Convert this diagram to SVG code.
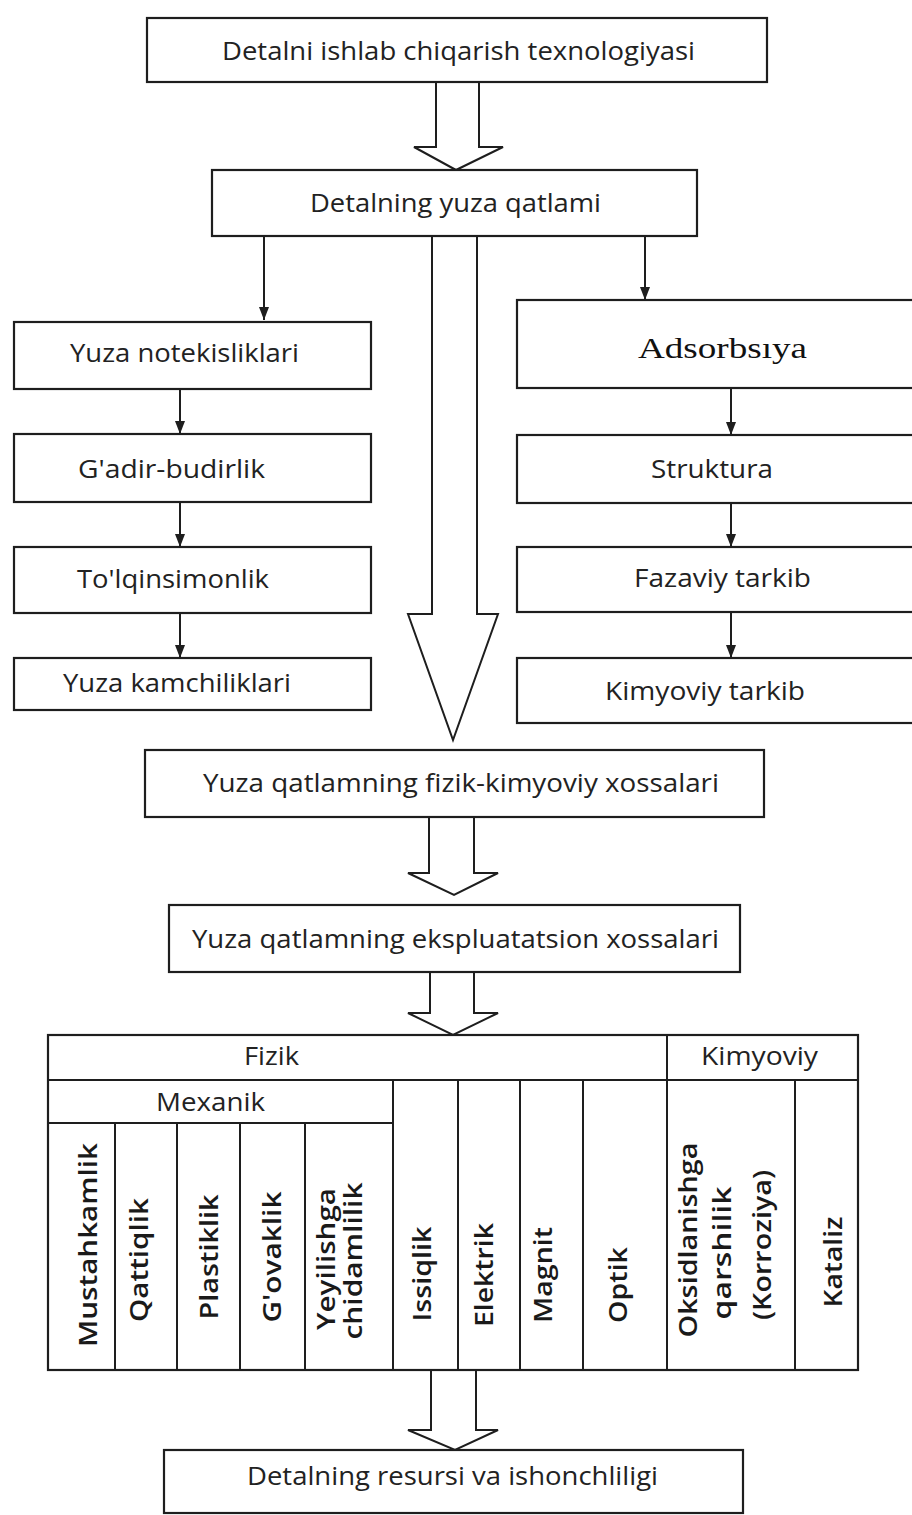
<svg xmlns="http://www.w3.org/2000/svg" width="912" height="1515" viewBox="0 0 912 1515">
<defs>
<style>
.box{fill:#fff;stroke:#1e1e1e;stroke-width:2.2}
.ln{fill:none;stroke:#1e1e1e;stroke-width:2}
.hol{fill:#fff;stroke:#1e1e1e;stroke-width:2;stroke-linejoin:miter}
.t{font-family:"Open Sans","Noto Sans",sans-serif;font-size:26px;fill:#222}
.v{font-family:"Open Sans","Noto Sans",sans-serif;font-size:26px;font-weight:600;fill:#1a1a1a;text-anchor:middle}
.serif{font-family:"Liberation Serif","DejaVu Serif",serif;font-size:29px;fill:#111}
</style>
<marker id="ad" markerUnits="userSpaceOnUse" markerWidth="13" markerHeight="10" refX="13" refY="5" orient="auto" viewBox="0 0 13 10">
<path d="M0,0 L13,5 L0,10 Z" fill="#1e1e1e"/>
</marker>
</defs>
<rect width="912" height="1515" fill="#fff"/>

<g id="connectors">
<polygon class="hol" points="436,82 436,147 414,147 456,170 503,147 479,147 479,82"/>
<polygon class="hol" points="432,236 432,614 408,614 453,740 498,614 477,614 477,236"/>
<polygon class="hol" points="429,817 429,873 408,873 454,895 498,873 474,873 474,817"/>
<polygon class="hol" points="430,972 430,1013 408,1013 453,1035 498,1013 474,1013 474,972"/>
<polygon class="hol" points="431,1370 431,1430 408,1430 455,1450 498,1430 476,1430 476,1370"/>
<path class="ln" d="M264,236 L264,320" marker-end="url(#ad)"/>
<path class="ln" d="M645,236 L645,300" marker-end="url(#ad)"/>
<path class="ln" d="M180,389 L180,434" marker-end="url(#ad)"/>
<path class="ln" d="M180,502 L180,547" marker-end="url(#ad)"/>
<path class="ln" d="M180,613 L180,658" marker-end="url(#ad)"/>
<path class="ln" d="M731,388 L731,435" marker-end="url(#ad)"/>
<path class="ln" d="M731,503 L731,547" marker-end="url(#ad)"/>
<path class="ln" d="M731,612 L731,658" marker-end="url(#ad)"/>
</g>

<g id="n_tech">
<rect class="box" x="147" y="18" width="620" height="64"/>
<text class="t" x="222" y="60" textLength="473" lengthAdjust="spacingAndGlyphs">Detalni ishlab chiqarish texnologiyasi</text>
</g>
<g id="n_layer">
<rect class="box" x="212" y="170" width="485" height="66"/>
<text class="t" x="310" y="212" textLength="291" lengthAdjust="spacingAndGlyphs">Detalning yuza qatlami</text>
</g>

<g id="n_notek">
<rect class="box" x="14" y="322" width="357" height="67"/>
<text class="t" x="70" y="362" textLength="229" lengthAdjust="spacingAndGlyphs">Yuza notekisliklari</text>
</g>
<g id="n_gadir">
<rect class="box" x="14" y="434" width="357" height="68"/>
<text class="t" x="78" y="478" textLength="187" lengthAdjust="spacingAndGlyphs">G'adir-budirlik</text>
</g>
<g id="n_tolq">
<rect class="box" x="14" y="547" width="357" height="66"/>
<text class="t" x="77" y="588" textLength="192" lengthAdjust="spacingAndGlyphs">To'lqinsimonlik</text>
</g>
<g id="n_kamch">
<rect class="box" x="14" y="658" width="357" height="52"/>
<text class="t" x="63" y="692" textLength="228" lengthAdjust="spacingAndGlyphs">Yuza kamchiliklari</text>
</g>

<g id="n_adsorb">
<rect class="box" x="517" y="300" width="410" height="88"/>
<text class="serif" x="638" y="358" textLength="169" lengthAdjust="spacingAndGlyphs">Adsorbsıya</text>
</g>
<g id="n_strukt">
<rect class="box" x="517" y="435" width="410" height="68"/>
<text class="t" x="651" y="478" textLength="122" lengthAdjust="spacingAndGlyphs">Struktura</text>
</g>
<g id="n_fazav">
<rect class="box" x="517" y="547" width="410" height="65"/>
<text class="t" x="634" y="587" textLength="177" lengthAdjust="spacingAndGlyphs">Fazaviy tarkib</text>
</g>
<g id="n_kimyo">
<rect class="box" x="517" y="658" width="410" height="65"/>
<text class="t" x="605" y="700" textLength="200" lengthAdjust="spacingAndGlyphs">Kimyoviy tarkib</text>
</g>

<g id="n_fizkim">
<rect class="box" x="145" y="750" width="619" height="67"/>
<text class="t" x="203" y="792" textLength="516" lengthAdjust="spacingAndGlyphs">Yuza qatlamning fizik-kimyoviy xossalari</text>
</g>
<g id="n_ekspl">
<rect class="box" x="169" y="905" width="571" height="67"/>
<text class="t" x="192" y="948" textLength="527" lengthAdjust="spacingAndGlyphs">Yuza qatlamning ekspluatatsion xossalari</text>
</g>

<g id="n_table">
<rect class="box" x="48" y="1035" width="810" height="335" fill="none"/>
<path class="ln" d="M48,1080 H858 M48,1123 H393 M667,1035 V1370 M393,1080 V1370 M115,1123 V1370 M177,1123 V1370 M240,1123 V1370 M305,1123 V1370 M458,1080 V1370 M520,1080 V1370 M583,1080 V1370 M795,1080 V1370"/>
<text class="t" x="244" y="1065" textLength="55" lengthAdjust="spacingAndGlyphs">Fizik</text>
<text class="t" x="701" y="1065" textLength="117" lengthAdjust="spacingAndGlyphs">Kimyoviy</text>
<text class="t" x="156" y="1111" textLength="109" lengthAdjust="spacingAndGlyphs">Mexanik</text>
<text class="v" transform="translate(97,1245) rotate(-90)" textLength="204" lengthAdjust="spacingAndGlyphs">Mustahkamlik</text>
<text class="v" transform="translate(148,1260) rotate(-90)" textLength="124" lengthAdjust="spacingAndGlyphs">Qattiqlik</text>
<text class="v" transform="translate(218,1257) rotate(-90)" textLength="125" lengthAdjust="spacingAndGlyphs">Plastiklik</text>
<text class="v" transform="translate(281,1257) rotate(-90)" textLength="131" lengthAdjust="spacingAndGlyphs">G'ovaklik</text>
<text class="v" transform="translate(335,1259) rotate(-90)" textLength="142" lengthAdjust="spacingAndGlyphs">Yeyilishga</text>
<text class="v" transform="translate(362,1261) rotate(-90)" textLength="157" lengthAdjust="spacingAndGlyphs">chidamlilik</text>
<text class="v" transform="translate(431,1274) rotate(-90)" textLength="95" lengthAdjust="spacingAndGlyphs">Issiqlik</text>
<text class="v" transform="translate(493,1275) rotate(-90)" textLength="104" lengthAdjust="spacingAndGlyphs">Elektrik</text>
<text class="v" transform="translate(552,1275) rotate(-90)" textLength="96" lengthAdjust="spacingAndGlyphs">Magnit</text>
<text class="v" transform="translate(627,1285) rotate(-90)" textLength="76" lengthAdjust="spacingAndGlyphs">Optik</text>
<text class="v" transform="translate(697,1240) rotate(-90)" textLength="195" lengthAdjust="spacingAndGlyphs">Oksidlanishga</text>
<text class="v" transform="translate(731,1253) rotate(-90)" textLength="133" lengthAdjust="spacingAndGlyphs">qarshilik</text>
<text class="v" transform="translate(771,1245) rotate(-90)" textLength="150" lengthAdjust="spacingAndGlyphs">(Korroziya)</text>
<text class="v" transform="translate(842,1262) rotate(-90)" textLength="91" lengthAdjust="spacingAndGlyphs">Kataliz</text>
</g>

<g id="n_resurs">
<rect class="box" x="164" y="1450" width="579" height="63"/>
<text class="t" x="247" y="1485" textLength="411" lengthAdjust="spacingAndGlyphs">Detalning resursi va ishonchliligi</text>
</g>
</svg>
